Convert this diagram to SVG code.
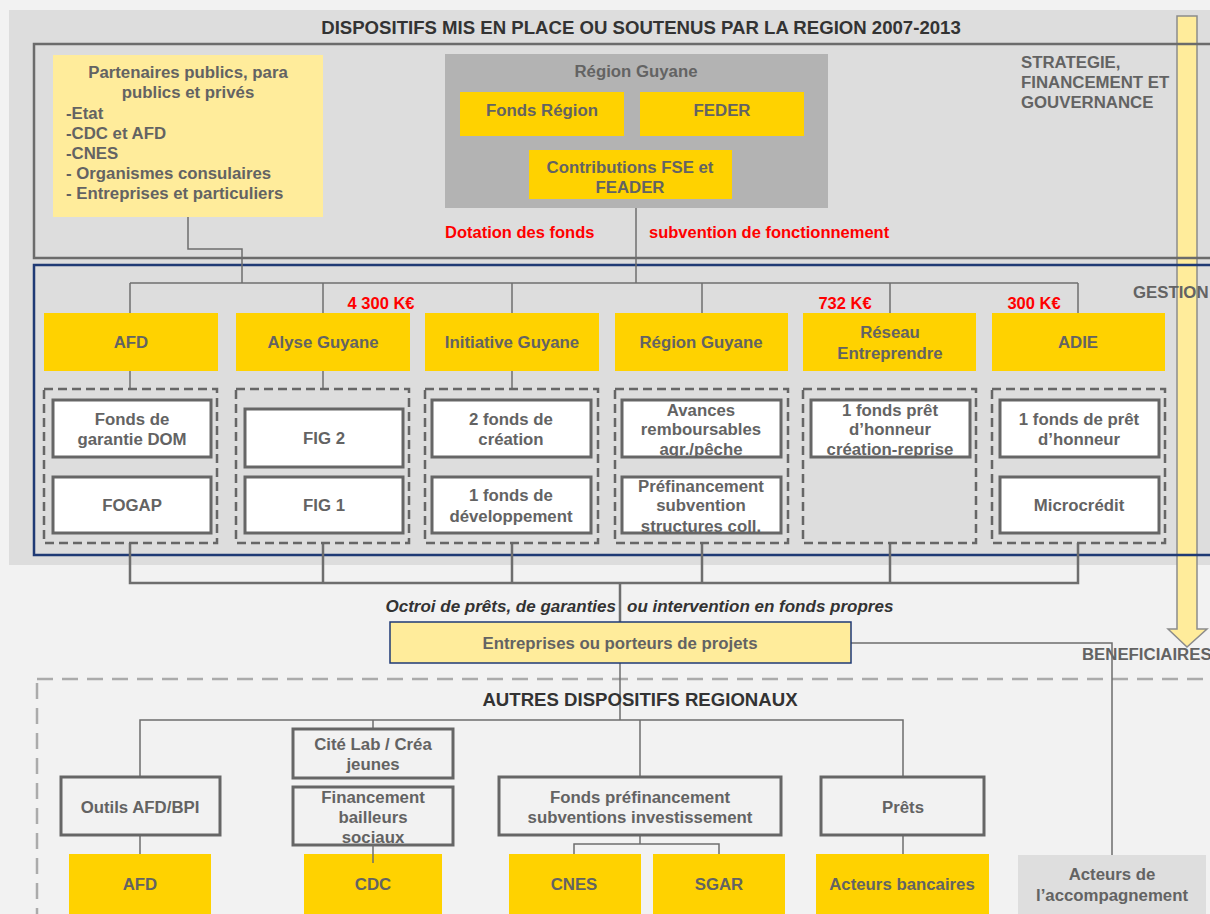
<svg xmlns="http://www.w3.org/2000/svg" width="1210" height="914" viewBox="0 0 1210 914">
  <style>
    text { font-family: "Liberation Sans", Arial, sans-serif; font-weight: bold; dominant-baseline: central; }
    .lbl { font-size: 16.8px; fill: #636363; text-anchor: middle; }
    .lft { font-size: 16.8px; fill: #636363; }
    .red { font-size: 16.5px; fill: #ff0000; }
    .redc { font-size: 16.5px; fill: #ff0000; text-anchor: middle; }
    .head { font-size: 18.6px; fill: #333333; text-anchor: middle; }
    .ital { font-size: 17px; font-style: italic; fill: #333333; }
    .yel { fill: #ffd200; }
    .pale { fill: #ffec9b; }
    .wbox { fill: #ffffff; stroke: #666666; stroke-width: 3; }
    .obox { fill: none; stroke: #666666; stroke-width: 3; }
    .grp { fill: none; stroke: #666666; stroke-width: 2.5; stroke-dasharray: 9 5; }
    .ln { fill: none; stroke: #6e6e6e; stroke-width: 1.5; }
    .lnb { fill: none; stroke: #6e6e6e; stroke-width: 2.5; }
  </style>

  <!-- page and upper panel -->
  <rect x="0" y="0" width="1210" height="914" fill="#f2f2f2"/>
  <rect x="9" y="10" width="1201" height="555" fill="#dddddd"/>

  <!-- vertical flow arrow -->
  <g id="flow-arrow">
    <polygon points="1177,16 1197,16 1197,629 1207,629 1187,647 1168,629 1177,629" fill="#ffec9b" stroke="#8c8c8c" stroke-width="1.5"/>
  </g>

  <text class="head" x="641" y="27">DISPOSITIFS MIS EN PLACE OU SOUTENUS PAR LA REGION 2007-2013</text>

  <!-- section frames -->
  <rect x="34" y="44" width="1200" height="214" fill="none" stroke="#6b6b6b" stroke-width="2.5"/>
  <rect x="34" y="265" width="1200" height="290" fill="none" stroke="#1f3a75" stroke-width="2.5"/>
  <rect x="37" y="679" width="1200" height="260" fill="none" stroke="#ababab" stroke-width="2.5" stroke-dasharray="16 9"/>

  <text class="lft" x="1021" y="62">STRATEGIE,</text>
  <text class="lft" x="1021" y="82">FINANCEMENT ET</text>
  <text class="lft" x="1021" y="102">GOUVERNANCE</text>
  <text class="lft" x="1133" y="292">GESTION</text>
  <text class="lft" x="1082" y="654">BENEFICIAIRES</text>

  <!-- connectors -->
  <g id="connectors">
    <polyline class="ln" points="188,217 188,249 242,249 242,283"/>
    <line class="ln" x1="636" y1="208" x2="636" y2="283" stroke-width="2"/>
    <line class="ln" x1="130" y1="283" x2="1078" y2="283"/>
    <line class="ln" x1="130" y1="283" x2="130" y2="313"/>
    <line class="ln" x1="323" y1="283" x2="323" y2="313"/>
    <line class="ln" x1="512" y1="283" x2="512" y2="313"/>
    <line class="ln" x1="702" y1="283" x2="702" y2="313"/>
    <line class="ln" x1="890" y1="283" x2="890" y2="313"/>
    <line class="ln" x1="1078" y1="283" x2="1078" y2="313"/>
    <line class="ln" x1="130" y1="371" x2="130" y2="389"/>
    <line class="ln" x1="323" y1="371" x2="323" y2="389"/>
    <line class="ln" x1="512" y1="371" x2="512" y2="389"/>

    <polyline class="lnb" points="130,543 130,583 1078,583 1078,543"/>
    <line class="lnb" x1="323" y1="543" x2="323" y2="583"/>
    <line class="lnb" x1="512" y1="543" x2="512" y2="583"/>
    <line class="lnb" x1="702" y1="543" x2="702" y2="583"/>
    <line class="lnb" x1="890" y1="543" x2="890" y2="583"/>
    <line class="lnb" x1="620" y1="583" x2="620" y2="622"/>
    <line class="ln" x1="620" y1="663" x2="620" y2="720" stroke-width="2"/>

    <polyline class="ln" points="851,643 1112,643 1112,855"/>

    <polyline class="ln" points="140,777 140,720 903,720 903,777"/>
    <line class="ln" x1="373" y1="720" x2="373" y2="729"/>
    <line class="ln" x1="640" y1="720" x2="640" y2="777"/>
    <line class="ln" x1="140" y1="835" x2="140" y2="854"/>
    <line class="ln" x1="903" y1="835" x2="903" y2="854"/>
    <polyline class="ln" points="640,835 640,844"/>
    <polyline class="ln" points="574,854 574,844 719,844 719,854"/>
  </g>

  <!-- strategy level -->
  <g id="partenaires">
    <rect x="53" y="55" width="270" height="162" class="pale"/>
    <text class="lbl" x="188" y="72">Partenaires publics, para</text>
    <text class="lbl" x="188" y="92">publics et privés</text>
    <text class="lft" x="66" y="113">-Etat</text>
    <text class="lft" x="66" y="133">-CDC et AFD</text>
    <text class="lft" x="66" y="153">-CNES</text>
    <text class="lft" x="66" y="173">- Organismes consulaires</text>
    <text class="lft" x="66" y="193">- Entreprises et particuliers</text>
  </g>

  <g id="region-guyane-financeur">
    <rect x="445" y="54" width="383" height="154" fill="#b3b3b3"/>
    <text class="lbl" x="636" y="71" fill="#707070">Région Guyane</text>
  </g>
  <g id="fonds-region">
    <rect x="460" y="92" width="164" height="44" class="yel"/>
    <text class="lbl" x="542" y="110">Fonds Région</text>
  </g>
  <g id="feder">
    <rect x="640" y="92" width="164" height="44" class="yel"/>
    <text class="lbl" x="722" y="110">FEDER</text>
  </g>
  <g id="contributions">
    <rect x="529" y="150" width="203" height="49" class="yel"/>
    <text class="lbl" x="630" y="167">Contributions FSE et</text>
    <text class="lbl" x="630" y="187">FEADER</text>
  </g>

  <text class="red" x="445" y="232">Dotation des fonds</text>
  <text class="red" x="649" y="232">subvention de fonctionnement</text>

  <!-- amounts -->
  <text class="redc" x="381" y="303">4 300 K€</text>
  <text class="redc" x="845" y="303">732 K€</text>
  <text class="redc" x="1034" y="303">300 K€</text>

  <!-- management level -->
  <g id="afd">
    <rect x="44" y="313" width="174" height="58" class="yel"/>
    <text class="lbl" x="131" y="342">AFD</text>
    <rect x="44" y="389" width="173" height="154" class="grp"/>
    <rect x="53" y="400" width="158" height="57" class="wbox"/>
    <text class="lbl" x="132" y="419">Fonds de</text>
    <text class="lbl" x="132" y="439">garantie DOM</text>
    <rect x="53" y="477" width="158" height="56" class="wbox"/>
    <text class="lbl" x="132" y="505">FOGAP</text>
  </g>

  <g id="alyse-guyane">
    <rect x="236" y="313" width="174" height="58" class="yel"/>
    <text class="lbl" x="323" y="342">Alyse Guyane</text>
    <rect x="236" y="389" width="173" height="154" class="grp"/>
    <rect x="245" y="409" width="158" height="58" class="wbox"/>
    <text class="lbl" x="324" y="438">FIG 2</text>
    <rect x="245" y="477" width="158" height="56" class="wbox"/>
    <text class="lbl" x="324" y="505">FIG 1</text>
  </g>

  <g id="initiative-guyane">
    <rect x="425" y="313" width="174" height="58" class="yel"/>
    <text class="lbl" x="512" y="342">Initiative Guyane</text>
    <rect x="425" y="389" width="173" height="154" class="grp"/>
    <rect x="432" y="400" width="159" height="57" class="wbox"/>
    <text class="lbl" x="511" y="419">2 fonds de</text>
    <text class="lbl" x="511" y="439">création</text>
    <rect x="432" y="477" width="159" height="56" class="wbox"/>
    <text class="lbl" x="511" y="495">1 fonds de</text>
    <text class="lbl" x="511" y="516">développement</text>
  </g>

  <g id="region-guyane">
    <rect x="615" y="313" width="173" height="58" class="yel"/>
    <text class="lbl" x="701" y="342">Région Guyane</text>
    <rect x="615" y="389" width="173" height="154" class="grp"/>
    <rect x="622" y="400" width="159" height="57" class="wbox"/>
    <text class="lbl" x="701" y="410">Avances</text>
    <text class="lbl" x="701" y="429">remboursables</text>
    <text class="lbl" x="701" y="449">agr./pêche</text>
    <rect x="622" y="477" width="159" height="56" class="wbox"/>
    <text class="lbl" x="701" y="486">Préfinancement</text>
    <text class="lbl" x="701" y="505">subvention</text>
    <text class="lbl" x="701" y="526">structures coll.</text>
  </g>

  <g id="reseau-entreprendre">
    <rect x="803" y="313" width="173" height="58" class="yel"/>
    <text class="lbl" x="890" y="332">Réseau</text>
    <text class="lbl" x="890" y="353">Entreprendre</text>
    <rect x="803" y="389" width="173" height="154" class="grp"/>
    <rect x="811" y="400" width="159" height="57" class="wbox"/>
    <text class="lbl" x="890" y="410">1 fonds prêt</text>
    <text class="lbl" x="890" y="429">d’honneur</text>
    <text class="lbl" x="890" y="449">création-reprise</text>
  </g>

  <g id="adie">
    <rect x="992" y="313" width="173" height="58" class="yel"/>
    <text class="lbl" x="1078" y="342">ADIE</text>
    <rect x="992" y="389" width="173" height="154" class="grp"/>
    <rect x="1000" y="400" width="159" height="57" class="wbox"/>
    <text class="lbl" x="1079" y="419">1 fonds de prêt</text>
    <text class="lbl" x="1079" y="439">d’honneur</text>
    <rect x="1000" y="477" width="159" height="56" class="wbox"/>
    <text class="lbl" x="1079" y="505">Microcrédit</text>
  </g>

  <!-- beneficiaries -->
  <text class="ital" x="616" y="606" text-anchor="end">Octroi de prêts, de garanties</text>
  <text class="ital" x="627" y="606">ou intervention en fonds propres</text>
  <g id="entreprises">
    <rect x="390" y="622" width="461" height="41" fill="#ffec9b" stroke="#1f3a75" stroke-width="1.5"/>
    <text class="lbl" x="620" y="643">Entreprises ou porteurs de projets</text>
  </g>

  <!-- other regional schemes -->
  <text class="head" x="640" y="699">AUTRES DISPOSITIFS REGIONAUX</text>

  <g id="outils-afd-bpi">
    <rect x="61" y="777" width="159" height="58" class="obox"/>
    <text class="lbl" x="140" y="807">Outils AFD/BPI</text>
  </g>
  <g id="cite-lab">
    <rect x="293" y="729" width="160" height="49" class="obox"/>
    <text class="lbl" x="373" y="744">Cité Lab / Créa</text>
    <text class="lbl" x="373" y="764">jeunes</text>
  </g>
  <g id="financement-bailleurs">
    <rect x="293" y="787" width="160" height="58" class="obox"/>
    <text class="lbl" x="373" y="797">Financement</text>
    <text class="lbl" x="373" y="817">bailleurs</text>
    <text class="lbl" x="373" y="837">sociaux</text>
  </g>
  <g id="fonds-prefinancement">
    <rect x="499" y="777" width="282" height="58" class="obox"/>
    <text class="lbl" x="640" y="797">Fonds préfinancement</text>
    <text class="lbl" x="640" y="817">subventions investissement</text>
  </g>
  <g id="prets">
    <rect x="821" y="777" width="163" height="58" class="obox"/>
    <text class="lbl" x="903" y="807">Prêts</text>
  </g>

  <g id="afd-bas">
    <rect x="69" y="854" width="142" height="60" class="yel"/>
    <text class="lbl" x="140" y="884">AFD</text>
  </g>
  <g id="cdc">
    <rect x="304" y="854" width="138" height="60" class="yel"/>
    <text class="lbl" x="373" y="884">CDC</text>
  </g>
  <line class="ln" x1="373" y1="845" x2="373" y2="863"/>
  <g id="cnes">
    <rect x="509" y="854" width="132" height="60" class="yel"/>
    <text class="lbl" x="574" y="884">CNES</text>
  </g>
  <g id="sgar">
    <rect x="653" y="854" width="132" height="60" class="yel"/>
    <text class="lbl" x="719" y="884">SGAR</text>
  </g>
  <g id="acteurs-bancaires">
    <rect x="816" y="854" width="173" height="60" class="yel"/>
    <text class="lbl" x="902" y="884">Acteurs bancaires</text>
  </g>
  <g id="acteurs-accompagnement">
    <rect x="1018" y="855" width="188" height="59" fill="#dedede"/>
    <text class="lbl" x="1112" y="874">Acteurs de</text>
    <text class="lbl" x="1112" y="895">l’accompagnement</text>
  </g>
</svg>
